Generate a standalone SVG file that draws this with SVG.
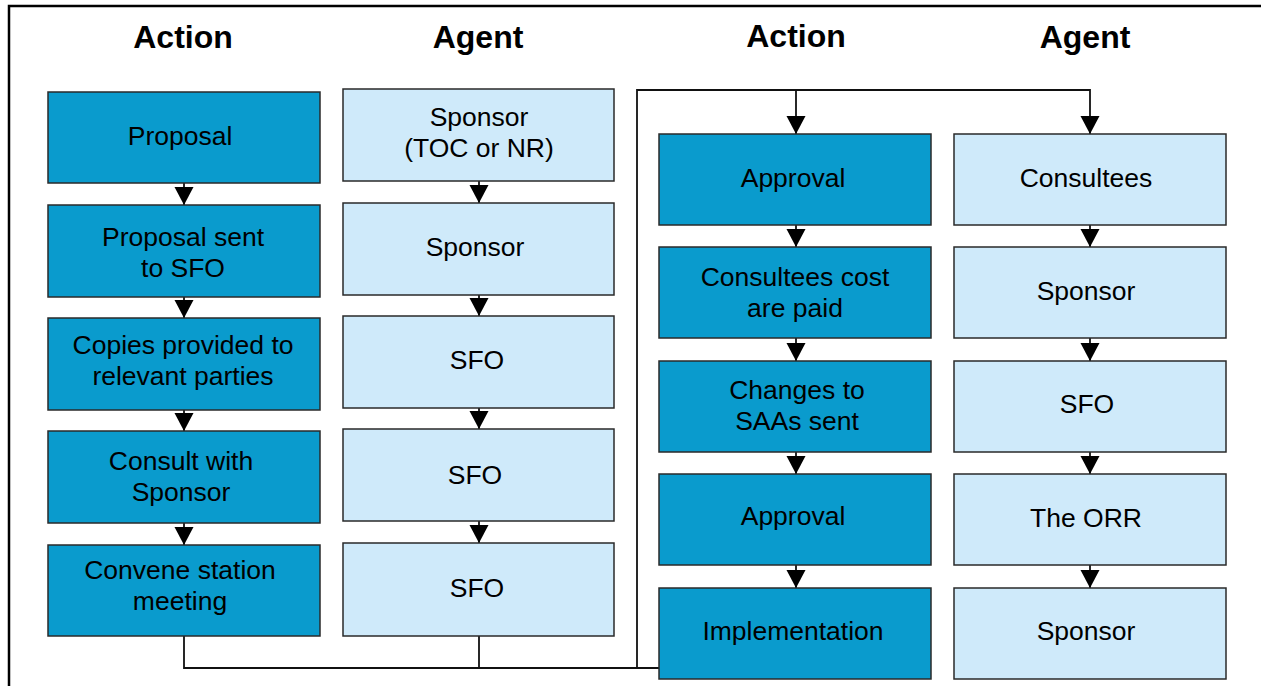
<svg xmlns="http://www.w3.org/2000/svg" width="1261" height="686" viewBox="0 0 1261 686">
<defs>
<marker id="ah" markerUnits="userSpaceOnUse" markerWidth="18" markerHeight="20" refX="18" refY="9.5" orient="auto">
<path d="M0,0 L18,9.5 L0,19 Z" fill="#000"/>
</marker>
<style>
.act rect{fill:#0a9bcd;stroke:#2a2a2a;stroke-width:1.5}
.agt rect{fill:#cfeafa;stroke:#2a2a2a;stroke-width:1.5}
text{font-family:"Liberation Sans",Arial,sans-serif;font-size:26.5px;fill:#000;text-anchor:middle}
.hd{font-weight:bold;font-size:32px}
.ln{fill:none;stroke:#111;stroke-width:1.8}
</style>
</defs>
<rect x="9" y="6" width="1270" height="700" fill="#fff" stroke="#000" stroke-width="2.5"/>
<g id="headings">
<text class="hd" x="183" y="48">Action</text>
<text class="hd" x="478" y="48">Agent</text>
<text class="hd" x="796" y="47">Action</text>
<text class="hd" x="1085" y="48">Agent</text>
</g>
<g id="connectors">
<path class="ln" d="M184,183 V205" marker-end="url(#ah)"/>
<path class="ln" d="M184,297 V318" marker-end="url(#ah)"/>
<path class="ln" d="M184,410 V431" marker-end="url(#ah)"/>
<path class="ln" d="M184,523 V545" marker-end="url(#ah)"/>
<path class="ln" d="M479,181 V203" marker-end="url(#ah)"/>
<path class="ln" d="M479,295 V316" marker-end="url(#ah)"/>
<path class="ln" d="M479,408 V429" marker-end="url(#ah)"/>
<path class="ln" d="M479,521 V543" marker-end="url(#ah)"/>
<path class="ln" d="M184,636 V668 H659"/>
<path class="ln" d="M479,636 V668"/>
<path class="ln" d="M637,668 V90 H1090 V134" marker-end="url(#ah)"/>
<path class="ln" d="M796,90 V134" marker-end="url(#ah)"/>
<path class="ln" d="M796,225 V247" marker-end="url(#ah)"/>
<path class="ln" d="M796,338 V361" marker-end="url(#ah)"/>
<path class="ln" d="M796,452 V474" marker-end="url(#ah)"/>
<path class="ln" d="M796,565 V588" marker-end="url(#ah)"/>
<path class="ln" d="M1090,225 V247" marker-end="url(#ah)"/>
<path class="ln" d="M1090,338 V361" marker-end="url(#ah)"/>
<path class="ln" d="M1090,452 V474" marker-end="url(#ah)"/>
<path class="ln" d="M1090,565 V588" marker-end="url(#ah)"/>
</g>
<g id="a1" class="act"><rect x="48" y="92" width="272" height="91"/><text x="180" y="145">Proposal</text></g>
<g id="a2" class="act"><rect x="48" y="205" width="272" height="92"/><text x="183" y="246">Proposal sent</text><text x="183" y="277">to SFO</text></g>
<g id="a3" class="act"><rect x="48" y="318" width="272" height="92"/><text x="183" y="354">Copies provided to</text><text x="183" y="385">relevant parties</text></g>
<g id="a4" class="act"><rect x="48" y="431" width="272" height="92"/><text x="181" y="470">Consult with</text><text x="181" y="501">Sponsor</text></g>
<g id="a5" class="act"><rect x="48" y="545" width="272" height="91"/><text x="180" y="579">Convene station</text><text x="180" y="610">meeting</text></g>
<g id="g1" class="agt"><rect x="343" y="89" width="271" height="92"/><text x="479" y="126">Sponsor</text><text x="479" y="157">(TOC or NR)</text></g>
<g id="g2" class="agt"><rect x="343" y="203" width="271" height="92"/><text x="475" y="256">Sponsor</text></g>
<g id="g3" class="agt"><rect x="343" y="316" width="271" height="92"/><text x="477" y="369">SFO</text></g>
<g id="g4" class="agt"><rect x="343" y="429" width="271" height="92"/><text x="475" y="484">SFO</text></g>
<g id="g5" class="agt"><rect x="343" y="543" width="271" height="93"/><text x="477" y="597">SFO</text></g>
<g id="b1" class="act"><rect x="659" y="134" width="272" height="91"/><text x="793" y="187">Approval</text></g>
<g id="b2" class="act"><rect x="659" y="247" width="272" height="91"/><text x="795" y="286">Consultees cost</text><text x="795" y="317">are paid</text></g>
<g id="b3" class="act"><rect x="659" y="361" width="272" height="91"/><text x="797" y="399">Changes to</text><text x="797" y="430">SAAs sent</text></g>
<g id="b4" class="act"><rect x="659" y="474" width="272" height="91"/><text x="793" y="525">Approval</text></g>
<g id="b5" class="act"><rect x="659" y="588" width="272" height="91"/><text x="793" y="640">Implementation</text></g>
<g id="c1" class="agt"><rect x="954" y="134" width="272" height="91"/><text x="1086" y="187">Consultees</text></g>
<g id="c2" class="agt"><rect x="954" y="247" width="272" height="91"/><text x="1086" y="300">Sponsor</text></g>
<g id="c3" class="agt"><rect x="954" y="361" width="272" height="91"/><text x="1087" y="413">SFO</text></g>
<g id="c4" class="agt"><rect x="954" y="474" width="272" height="91"/><text x="1086" y="527">The ORR</text></g>
<g id="c5" class="agt"><rect x="954" y="588" width="272" height="91"/><text x="1086" y="640">Sponsor</text></g>
</svg>
